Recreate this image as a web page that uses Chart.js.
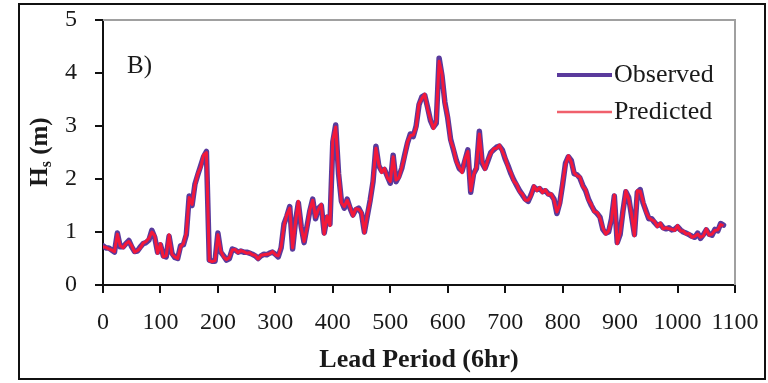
<!DOCTYPE html>
<html>
<head>
<meta charset="utf-8">
<script src="https://cdn.jsdelivr.net/npm/chart.js@4"></script>
<style>
  html, body { margin: 0; padding: 0; background: #fff; }
  #wrap { width: 768px; height: 383px; }
</style>
</head>
<body>
<div id="wrap"><canvas id="chart" width="768" height="383"></canvas></div>
<script>
// Lead period step between samples (6hr units)
const STEP = 5;

const observed = [
  0.74,0.70,0.70,0.66,0.62,0.98,0.72,0.72,0.78,0.84, 0.72,0.63,0.64,0.72,0.78,0.80,0.85,1.03,0.90,0.62,
  0.76,0.55,0.53,0.92,0.60,0.52,0.50,0.74,0.76,0.95, 1.68,1.50,1.90,2.08,2.25,2.42,2.52,0.47,0.45,0.45,
  0.98,0.62,0.55,0.47,0.50,0.68,0.66,0.62,0.64,0.62, 0.62,0.60,0.58,0.55,0.50,0.55,0.58,0.57,0.60,0.62,
  0.58,0.53,0.70,1.15,1.30,1.48,0.68,1.20,1.55,1.10, 0.80,1.10,1.40,1.62,1.25,1.45,1.50,0.98,1.28,1.15,
  2.70,3.02,2.10,1.58,1.45,1.62,1.45,1.32,1.42,1.45, 1.35,1.00,1.30,1.60,1.95,2.62,2.25,2.15,2.18,2.05,
  1.92,2.45,1.95,2.05,2.20,2.45,2.68,2.85,2.80,3.00, 3.40,3.55,3.58,3.35,3.10,2.98,3.05,4.28,3.95,3.45,
  3.15,2.75,2.55,2.35,2.20,2.15,2.35,2.55,1.75,2.10, 2.20,2.90,2.30,2.20,2.35,2.50,2.55,2.60,2.62,2.55,
  2.38,2.25,2.10,1.98,1.88,1.78,1.70,1.62,1.58,1.70, 1.85,1.80,1.82,1.76,1.78,1.72,1.70,1.62,1.35,1.55,
  1.90,2.30,2.42,2.35,2.10,2.08,2.02,1.88,1.78,1.62, 1.50,1.40,1.35,1.28,1.05,0.98,1.00,1.25,1.68,0.80,
  0.95,1.40,1.76,1.65,1.30,0.95,1.75,1.80,1.55,1.40, 1.25,1.25,1.18,1.12,1.15,1.08,1.06,1.08,1.04,1.05,
  1.10,1.04,1.00,0.98,0.95,0.92,0.90,0.98,0.88,0.95, 1.04,0.96,0.94,1.05,1.02,1.16,1.13
];

const predicted = [
  0.72,0.71,0.68,0.66,0.63,0.96,0.74,0.70,0.78,0.82, 0.74,0.62,0.65,0.70,0.79,0.82,0.88,1.00,0.93,0.60,
  0.78,0.53,0.55,0.95,0.58,0.53,0.50,0.72,0.78,0.98, 1.65,1.52,1.88,2.10,2.22,2.45,2.50,0.46,0.44,0.46,
  0.95,0.64,0.53,0.48,0.52,0.66,0.67,0.61,0.65,0.63, 0.60,0.61,0.57,0.56,0.49,0.56,0.57,0.58,0.59,0.63,
  0.57,0.55,0.72,1.12,1.33,1.45,0.70,1.18,1.58,1.08, 0.82,1.08,1.42,1.60,1.28,1.43,1.52,0.96,1.30,1.12,
  2.75,2.98,2.15,1.55,1.48,1.60,1.47,1.30,1.44,1.43, 1.37,0.98,1.32,1.58,1.98,2.58,2.28,2.12,2.20,2.02,
  1.95,2.42,1.98,2.02,2.22,2.42,2.70,2.82,2.83,2.97, 3.42,3.52,3.60,3.32,3.12,2.95,3.08,4.22,3.98,3.42,
  3.18,2.72,2.58,2.32,2.22,2.12,2.38,2.52,1.78,2.08, 2.22,2.85,2.33,2.18,2.37,2.48,2.57,2.58,2.64,2.52,
  2.40,2.22,2.12,1.96,1.90,1.76,1.72,1.60,1.60,1.68, 1.87,1.78,1.84,1.74,1.80,1.70,1.72,1.60,1.38,1.52,
  1.93,2.27,2.44,2.32,2.12,2.06,2.04,1.86,1.80,1.60, 1.52,1.38,1.37,1.26,1.08,0.96,1.02,1.22,1.70,0.78,
  0.98,1.38,1.78,1.62,1.33,0.93,1.78,1.77,1.58,1.38, 1.27,1.23,1.20,1.10,1.17,1.06,1.08,1.06,1.05,1.03,
  1.12,1.02,1.02,0.96,0.97,0.90,0.92,0.96,0.90,0.93, 1.06,0.94,0.96,1.03,1.04,1.14,1.12
];

const leadPeriod = observed.map((_, i) => i * STEP);

const seriesLabels = ['Observed', 'Predicted'];
const panelLabel = 'B)';
const xTitle = 'Lead Period (6hr)';

const colors = {
    observed: '#5a3a9c',
    predicted: '#f2183a',
    predictedLegend: '#f0606c',
    text: '#1a1a1a'
};

const serif = '"Liberation Serif", "DejaVu Serif", serif';

const toPoints = (ys) => ys.map((y, i) => ({ x: leadPeriod[i], y }));

const decorations = {
    id: 'decorations',
    beforeDraw(chart) {
        const ctx = chart.ctx;
        ctx.save();
        ctx.fillStyle = '#fff';
        ctx.fillRect(0, 0, chart.width, chart.height);
        // outer frame
        ctx.strokeStyle = '#111';
        ctx.lineWidth = 2;
        ctx.strokeRect(19, 4, 746, 375);
        ctx.restore();
    },
    beforeDatasetsDraw(chart) {
        const { ctx, chartArea: a } = chart;
        ctx.save();
        ctx.strokeStyle = '#a0a0a0';
        ctx.lineWidth = 2;
        ctx.beginPath();
        ctx.moveTo(a.left, a.top);
        ctx.lineTo(a.right, a.top);
        ctx.lineTo(a.right, a.bottom);
        ctx.stroke();
        ctx.restore();
    },
    afterDraw(chart) {
        const { ctx, chartArea: a } = chart;
        ctx.save();
        ctx.fillStyle = colors.text;

        // panel label
        ctx.font = '25px ' + serif;
        ctx.textBaseline = 'middle';
        ctx.textAlign = 'left';
        ctx.fillText(panelLabel, 127, 66);

        // legend
        const items = [
            { label: seriesLabels[0], color: colors.observed, width: 4, y: 75 },
            { label: seriesLabels[1], color: colors.predictedLegend, width: 2.5, y: 112 }
        ];
        ctx.font = '26px ' + serif;
        items.forEach(it => {
            ctx.strokeStyle = it.color;
            ctx.lineWidth = it.width;
            ctx.beginPath();
            ctx.moveTo(557, it.y);
            ctx.lineTo(612, it.y);
            ctx.stroke();
            ctx.fillText(it.label, 614, it.y);
        });

        // x title
        ctx.font = 'bold 26px ' + serif;
        ctx.textAlign = 'center';
        ctx.fillText(xTitle, (a.left + a.right) / 2, 360);

        // y title with subscript: Hs (m)
        ctx.translate(47, 152);
        ctx.rotate(-Math.PI / 2);
        ctx.textAlign = 'left';
        ctx.textBaseline = 'alphabetic';
        const big = 'bold 25px ' + serif;
        const small = 'bold 16px ' + serif;
        ctx.font = big;
        const wH = ctx.measureText('H').width;
        const wRest = ctx.measureText(' (m)').width;
        ctx.font = small;
        const wS = ctx.measureText('s').width;
        let x0 = -(wH + wS + wRest) / 2;
        ctx.font = big;
        ctx.fillText('H', x0, 0);
        ctx.font = small;
        ctx.fillText('s', x0 + wH, 4);
        ctx.font = big;
        ctx.fillText(' (m)', x0 + wH + wS, 0);
        ctx.restore();
    }
};

new Chart(document.getElementById('chart'), {
    type: 'line',
    data: {
        datasets: [
            {
                label: seriesLabels[0],
                data: toPoints(observed),
                borderColor: colors.observed,
                borderWidth: 5.5,
                borderJoinStyle: 'round',
                borderCapStyle: 'round',
                pointRadius: 0,
                fill: false,
                tension: 0,
                order: 2
            },
            {
                label: seriesLabels[1],
                data: toPoints(predicted),
                borderColor: colors.predicted,
                borderWidth: 3,
                borderJoinStyle: 'round',
                pointRadius: 0,
                fill: false,
                tension: 0,
                order: 1
            }
        ]
    },
    options: {
        responsive: false,
        animation: false,
        devicePixelRatio: 1,
        layout: { padding: { top: 20, right: 33, bottom: 0, left: 0 } },
        plugins: {
            legend: { display: false },
            tooltip: { enabled: false }
        },
        scales: {
            x: {
                type: 'linear',
                min: 0,
                max: 1100,
                afterFit: (s) => {
                    s.height = 98;
                    s.paddingLeft = 0;
                    s.paddingRight = 0;
                },
                border: { color: '#111', width: 2 },
                grid: { drawOnChartArea: false, tickLength: 8, color: '#111', lineWidth: 2 },
                ticks: {
                    stepSize: 100,
                    autoSkip: false,
                    maxRotation: 0,
                    padding: 15,
                    color: colors.text,
                    font: { family: serif, size: 24 },
                    callback: (v) => String(v)
                }
            },
            y: {
                min: 0,
                max: 5,
                afterFit: (s) => {
                    s.width = 103;
                    s.paddingTop = 0;
                    s.paddingBottom = 0;
                },
                border: { color: '#111', width: 2 },
                grid: { drawOnChartArea: false, tickLength: 8, color: '#111', lineWidth: 2 },
                ticks: {
                    stepSize: 1,
                    padding: 18,
                    color: colors.text,
                    font: { family: serif, size: 24 },
                    callback: (v) => String(v)
                }
            }
        }
    },
    plugins: [decorations]
});
</script>
</body>
</html>
